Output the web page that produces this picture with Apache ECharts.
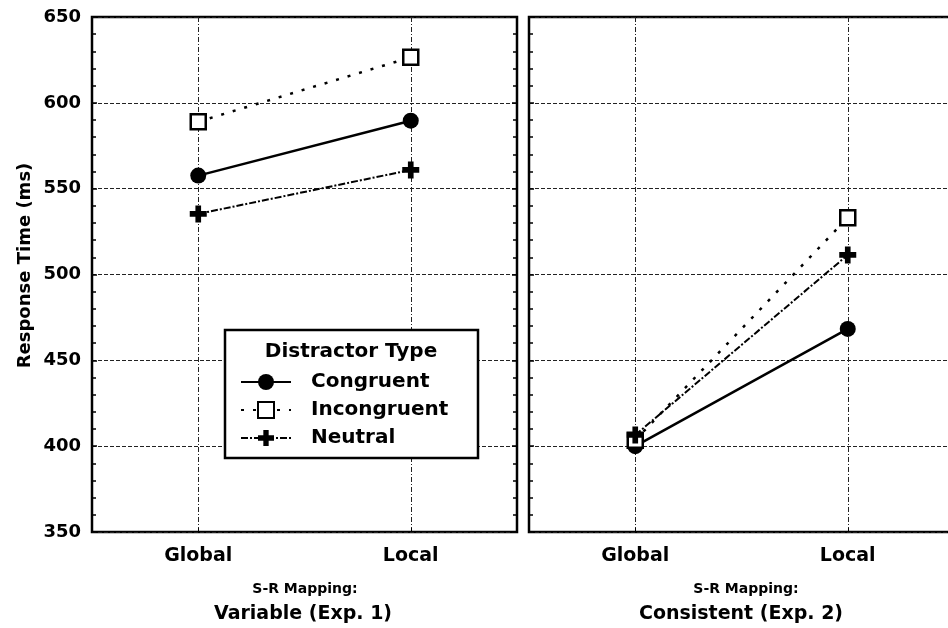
<!DOCTYPE html>
<html>
<head>
<meta charset="utf-8">
<script src="https://cdn.jsdelivr.net/npm/echarts@6/dist/echarts.min.js"></script>
<style>
html,body{margin:0;padding:0;background:#fff;}
#chart{width:948px;height:628px;}
</style>
</head>
<body>
<div id="chart"></div>
<script>
// ---- data ----
var categories = ['Global', 'Local'];
var seriesNames = ['Congruent', 'Incongruent', 'Neutral'];
// Experiment 1 (Variable S-R mapping)
var exp1Congruent = [557.6, 589.6];
var exp1Incongruent = [589, 626.5];
var exp1Neutral = [535.3, 560.9];
// Experiment 2 (Consistent S-R mapping)
var exp2Congruent = [400, 468.3];
var exp2Incongruent = [403.5, 533.1];
var exp2Neutral = [406.5, 511.4];
var yTicks = [350, 400, 450, 500, 550, 600, 650];
var panelTitles = [['S-R Mapping:', 'Variable (Exp. 1)'], ['S-R Mapping:', 'Consistent (Exp. 2)']];
var yAxisTitle = 'Response Time (ms)';
var legendTitle = 'Distractor Type';

var FONT = 'DejaVu Sans';
var chart = echarts.init(document.getElementById('chart'), null, {renderer: 'canvas'});

var plusPath = 'path://M4,0H8V4H12V8H8V12H4V8H0V4H4Z';

var styles = {
  Congruent: {symbol: 'circle', symbolSize: 16,
    itemStyle: {color: '#000'},
    lineStyle: {color: '#000', width: 2.5, type: 'solid'}},
  Incongruent: {symbol: 'rect', symbolSize: 15,
    itemStyle: {color: '#fff', borderColor: '#000', borderWidth: 2.5},
    lineStyle: {color: '#000', width: 2.5, type: [3, 9]}},
  Neutral: {symbol: plusPath, symbolSize: 17,
    itemStyle: {color: '#000'},
    lineStyle: {color: '#000', width: 2, type: [7, 2, 2, 2]}}
};

function mk(name, data, idx, z) {
  var s = styles[name];
  return {
    name: name, type: 'line', data: data,
    xAxisIndex: idx, yAxisIndex: idx === 0 ? 0 : 2,
    symbol: s.symbol, symbolSize: s.symbolSize,
    itemStyle: s.itemStyle, lineStyle: s.lineStyle,
    z: z, animation: false, silent: true
  };
}

var gridLine = {show: true, lineStyle: {color: '#222', width: 1, type: [4, 2]}};

function xAx(gi) {
  return {
    type: 'category', gridIndex: gi, data: categories, boundaryGap: true,
    axisLine: {show: false},
    axisTick: {show: true, alignWithLabel: true, inside: true, length: 4, lineStyle: {color: '#000'}},
    axisLabel: {fontFamily: FONT, fontWeight: 'bold', fontSize: 19, color: '#000', margin: 15},
    splitLine: {show: true, alignWithLabel: true, lineStyle: {color: '#222', width: 1, type: [5, 2, 1, 2]}}
  };
}

function yAx(gi, pos, labels, split, name) {
  var o = {
    type: 'value', gridIndex: gi, position: pos,
    min: yTicks[0], max: yTicks[yTicks.length - 1], interval: 50,
    axisLine: {show: false},
    axisTick: {show: true, inside: true, length: 5, lineStyle: {color: '#000', width: 1.5}},
    minorTick: {show: true, splitNumber: 5, length: 4, lineStyle: {color: '#000', width: 1.5}},
    axisLabel: {show: labels, fontFamily: FONT, fontWeight: 'bold', fontSize: 18, color: '#000', margin: 11},
    splitLine: split ? gridLine : {show: false}
  };
  if (name) {
    o.name = name;
    o.nameLocation = 'middle';
    o.nameRotate = 90;
    o.nameGap = 58;
    o.nameTextStyle = {fontFamily: FONT, fontWeight: 'bold', fontSize: 18, color: '#000', padding: [0, 0, 0, 18]};
  }
  return o;
}

var option = {
  backgroundColor: '#fff',
  animation: false,
  grid: [
    {left: 92, top: 17, width: 425, height: 515, show: true, borderColor: '#000', borderWidth: 2.5, backgroundColor: 'transparent', outerBoundsMode: 'none', containLabel: false},
    {left: 529, top: 17, width: 425, height: 515, show: true, borderColor: '#000', borderWidth: 2.5, backgroundColor: 'transparent', outerBoundsMode: 'none', containLabel: false}
  ],
  xAxis: [xAx(0), xAx(1)],
  yAxis: [
    yAx(0, 'left', true, true, yAxisTitle),
    yAx(0, 'right', false, false, null),
    yAx(1, 'left', false, true, null)
  ],
  legend: {
    show: true, orient: 'vertical', left: 240, top: 372, z: 10, padding: 0,
    itemWidth: 50, itemHeight: 20, itemGap: 8,
    data: seriesNames,
    textStyle: {fontFamily: FONT, fontWeight: 'bold', fontSize: 20, color: '#000', padding: [0, 0, 0, 15]},
    selectedMode: false
  },
  graphic: [
    {type: 'rect', z: 5, shape: {x: 225, y: 330, width: 253, height: 128},
     style: {fill: '#fff', stroke: '#000', lineWidth: 2.5}},
    {type: 'text', z: 6, x: 351, y: 352,
     style: {text: legendTitle, font: 'bold 20px "DejaVu Sans"', fill: '#000', textAlign: 'center', textVerticalAlign: 'middle'}},
    {type: 'text', x: 305, y: 589,
     style: {text: panelTitles[0][0], font: 'bold 14px "DejaVu Sans"', fill: '#000', textAlign: 'center', textVerticalAlign: 'middle'}},
    {type: 'text', x: 303, y: 614,
     style: {text: panelTitles[0][1], font: 'bold 19px "DejaVu Sans"', fill: '#000', textAlign: 'center', textVerticalAlign: 'middle'}},
    {type: 'text', x: 746, y: 589,
     style: {text: panelTitles[1][0], font: 'bold 14px "DejaVu Sans"', fill: '#000', textAlign: 'center', textVerticalAlign: 'middle'}},
    {type: 'text', x: 741, y: 614,
     style: {text: panelTitles[1][1], font: 'bold 19px "DejaVu Sans"', fill: '#000', textAlign: 'center', textVerticalAlign: 'middle'}}
  ],
  series: [
    mk('Congruent', exp1Congruent, 0, 3),
    mk('Incongruent', exp1Incongruent, 0, 4),
    mk('Neutral', exp1Neutral, 0, 5),
    mk('Congruent', exp2Congruent, 1, 3),
    mk('Incongruent', exp2Incongruent, 1, 4),
    mk('Neutral', exp2Neutral, 1, 5)
  ]
};
chart.setOption(option);
</script>
</body>
</html>
